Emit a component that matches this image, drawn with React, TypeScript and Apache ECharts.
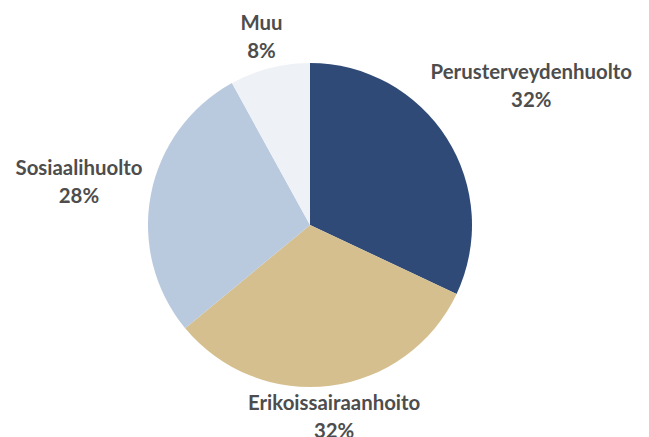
import React, { useEffect, useRef } from "react";
import * as echarts from "echarts";

const categories = ["Perusterveydenhuolto", "Erikoissairaanhoito", "Sosiaalihuolto", "Muu"];
const values = [32, 32, 28, 8];
const colors = ["#2f4a76", "#d6bf8f", "#b9c9de", "#eef2f7"];

const CX = 310;
const CY = 225;
const R = 162;
const GAP = 7;

export default function App() {
  const ref = useRef<HTMLDivElement>(null);
  useEffect(() => {
    document.body.style.margin = "0";
    const chart = echarts.init(ref.current!, undefined, { renderer: "svg" });
    const total = values.reduce((a, b) => a + b, 0);
    const mids: number[] = [];
    let acc = 0;
    values.forEach((v) => {
      mids.push((acc + v / 2) / total);
      acc += v;
    });
    chart.setOption({
      animation: false,
      backgroundColor: "#ffffff",
      series: [
        {
          type: "pie",
          center: [CX, CY],
          radius: R,
          startAngle: 90,
          clockwise: true,
          silent: true,
          data: categories.map((c, i) => ({
            name: c,
            value: values[i],
            itemStyle: { color: colors[i] },
          })),
          label: {
            show: true,
            position: "inside",
            formatter: (p: any) => `${p.name}\n${Math.round(p.percent)}%`,
            fontFamily: "Lato",
            fontWeight: "bold",
            fontSize: 20.4,
            lineHeight: 28,
            color: "#4d4d4d",
            align: "center",
            overflow: "none",
          },
          labelLine: { show: false },
          labelLayout: (params: any) => {
            const f = mids[params.dataIndex];
            const th = f * Math.PI * 2;
            const ux = Math.sin(th);
            const uy = -Math.cos(th);
            const hw = params.labelRect.width / 2;
            const hh = params.labelRect.height / 2 - 6;
            const nearest = (d: number) => {
              const bx = CX + ux * d;
              const by = CY + uy * d;
              const nx = Math.max(bx - hw, Math.min(CX, bx + hw));
              const ny = Math.max(by - hh, Math.min(CY, by + hh));
              return Math.hypot(nx - CX, ny - CY);
            };
            let lo = 0;
            let hi = 1000;
            for (let k = 0; k < 60; k++) {
              const m = (lo + hi) / 2;
              if (nearest(m) < R + GAP) lo = m;
              else hi = m;
            }
            return {
              x: CX + ux * hi,
              y: CY + uy * hi,
              align: "center",
              verticalAlign: "middle",
            };
          },
        },
      ],
    });
    return () => chart.dispose();
  }, []);
  return <div ref={ref} style={{ width: 649, height: 437 }} />;
}
